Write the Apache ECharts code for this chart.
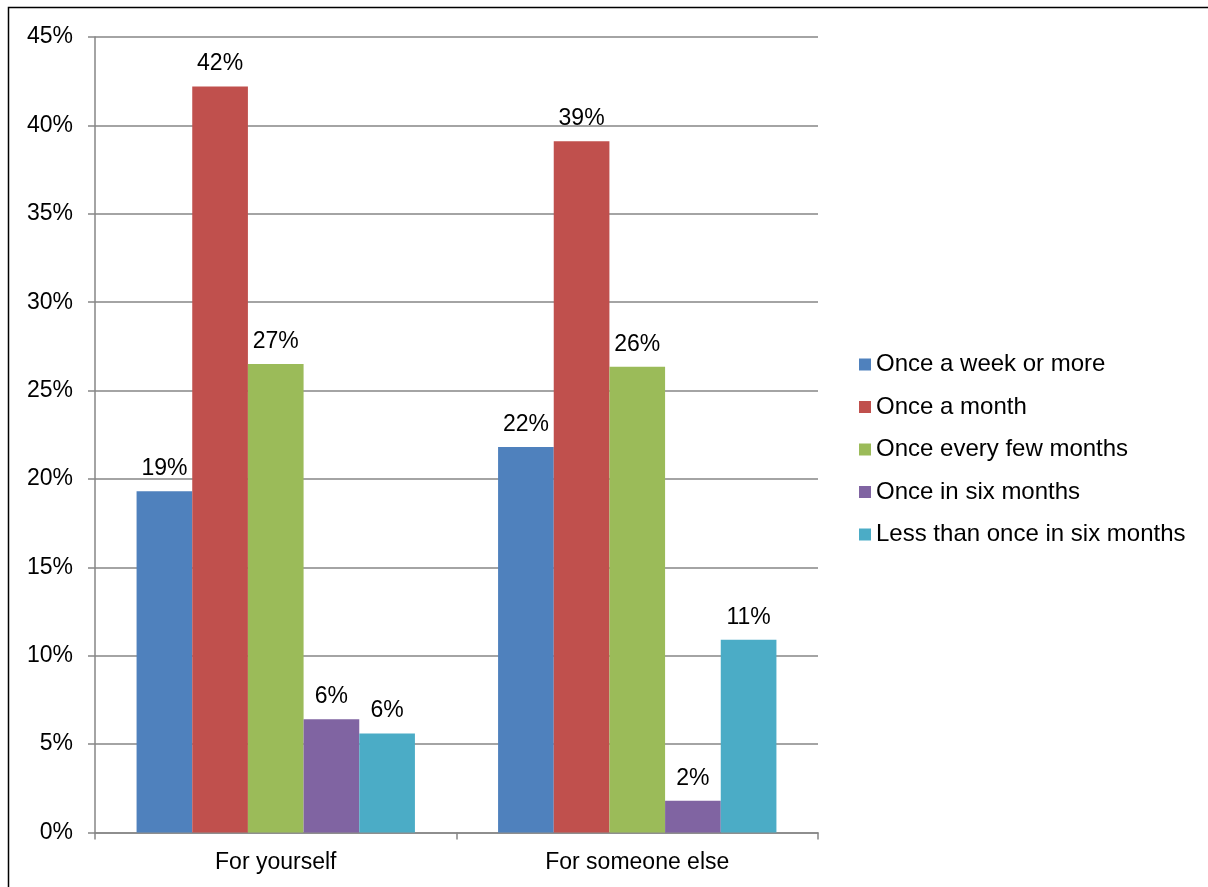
<!DOCTYPE html>
<html>
<head>
<meta charset="utf-8">
<script src="https://cdn.jsdelivr.net/npm/echarts@6/dist/echarts.min.js"></script>
<style>
html,body{margin:0;padding:0;background:#fff;}
#c{width:1208px;height:887px;}
</style>
</head>
<body>
<div id="c"></div>
<script>
const categories = ['For yourself', 'For someone else'];
const seriesNames = ['Once a week or more', 'Once a month', 'Once every few months', 'Once in six months', 'Less than once in six months'];
const weekly = [19.3, 21.8];
const monthly = [42.2, 39.1];
const fewMonths = [26.5, 26.35];
const sixMonths = [6.4, 1.8];
const lessThanSix = [5.6, 10.9];
const yTicks = [0, 5, 10, 15, 20, 25, 30, 35, 40, 45];

const colors = ['#4F81BD', '#C0504D', '#9BBB59', '#8064A2', '#4BACC6'];
const values = [weekly, monthly, fewMonths, sixMonths, lessThanSix];
const font = 'Liberation Sans, Arial, sans-serif';
const fs = 23;

const chart = echarts.init(document.getElementById('c'));
chart.setOption({
  animation: false,
  backgroundColor: '#fff',
  color: colors,
  graphic: [{
    type: 'rect', silent: true, z: 100,
    shape: {x: 8.5, y: 7.5, width: 1300, height: 1000},
    style: {fill: 'none', stroke: '#000', lineWidth: 1.5}
  }],
  grid: {left: 95, right: 390, top: 37, bottom: 54.5, containLabel: false},
  legend: {
    orient: 'vertical', left: 859, top: 352.5, padding: 0,
    itemWidth: 12, itemHeight: 12, itemGap: 18.5,
    icon: 'rect',
    textStyle: {fontFamily: font, fontSize: 24, color: '#000', lineHeight: 24},
    data: seriesNames
  },
  xAxis: {
    type: 'category', data: categories,
    axisLine: {lineStyle: {color: '#868686', width: 1.5}},
    axisTick: {show: true, length: 7, lineStyle: {color: '#868686', width: 1.5}},
    axisLabel: {fontFamily: font, fontSize: fs, color: '#000', margin: 19}
  },
  yAxis: {
    type: 'value', min: yTicks[0], max: yTicks[yTicks.length - 1], interval: 5,
    axisLine: {show: true, lineStyle: {color: '#868686', width: 1.5}},
    axisTick: {show: true, length: 7, lineStyle: {color: '#868686', width: 1.5}},
    splitLine: {lineStyle: {color: '#868686', width: 1.5}},
    axisLabel: {fontFamily: font, fontSize: fs, color: '#000', margin: 22, formatter: v => v + '%'}
  },
  series: seriesNames.map((n, i) => ({
    name: n, type: 'bar', data: values[i],
    barGap: '0%', barCategoryGap: '23%',
    itemStyle: {color: colors[i]},
    label: {show: true, position: 'top', distance: 11, fontFamily: font, fontSize: fs, color: '#000',
      formatter: p => Math.round(p.value) + '%'}
  }))
});
</script>
</body>
</html>
